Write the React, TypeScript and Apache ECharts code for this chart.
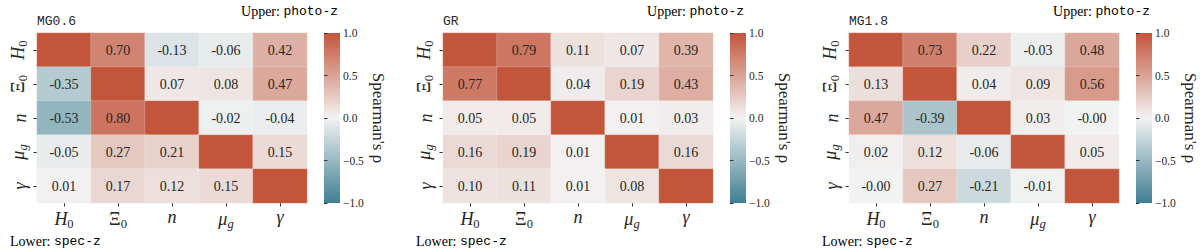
import React, { useEffect, useRef } from 'react';
import * as echarts from 'echarts';

const params = ['H0', 'Ξ0', 'n', 'μg', 'γ'];
const paramRich: Record<string, string> = {
  H0: '{i|H}{s|0}',
  'Ξ0': '{u|Ξ}{s|0}',
  n: '{i|n}',
  'μg': '{i|μ}{si|g}',
  'γ': '{i|γ}',
};
const panelTitles = ['MG0.6', 'GR', 'MG1.8'];

// rows: H0, Ξ0, n, μg, γ ; columns same order. Upper triangle photo-z, lower spec-z
const mg06 = [
  [1, 0.70, -0.13, -0.06, 0.42],
  [-0.35, 1, 0.07, 0.08, 0.47],
  [-0.53, 0.80, 1, -0.02, -0.04],
  [-0.05, 0.27, 0.21, 1, 0.15],
  [0.01, 0.17, 0.12, 0.15, 1],
];
const gr = [
  [1, 0.79, 0.11, 0.07, 0.39],
  [0.77, 1, 0.04, 0.19, 0.43],
  [0.05, 0.05, 1, 0.01, 0.03],
  [0.16, 0.19, 0.01, 1, 0.16],
  [0.10, 0.11, 0.01, 0.08, 1],
];
const mg18 = [
  [1, 0.73, 0.22, -0.03, 0.48],
  [0.13, 1, 0.04, 0.09, 0.56],
  [0.47, -0.39, 1, 0.03, -0.004],
  [0.02, 0.12, -0.06, 1, 0.05],
  [-0.004, 0.27, -0.21, -0.01, 1],
];
const matrices = [mg06, gr, mg18];
const cbMin = -1;
const cbMax = 1;
const cbInterval = 0.5;

const SERIF = 'Liberation Serif, DejaVu Serif, serif';
const MONO = 'Liberation Mono, DejaVu Sans Mono, monospace';
const TXT = '#262626';
const BLUE = '#3f7f93';
const MID = '#f2f2f2';
const RED = '#c3553a';

const richStyles = {
  i: { fontFamily: SERIF, fontStyle: 'italic', fontSize: 18, color: TXT },
  u: { fontFamily: SERIF, fontSize: 18, color: TXT },
  s: { fontFamily: SERIF, fontSize: 12.5, color: TXT, padding: [9, 0, 0, 0] },
  si: { fontFamily: SERIF, fontStyle: 'italic', fontSize: 12.5, color: TXT, padding: [9, 0, 0, 0] },
};

export default function App() {
  const ref = useRef<HTMLDivElement>(null);
  useEffect(() => {
    if (!ref.current) return;
    const chart = echarts.init(ref.current, undefined, { renderer: 'svg' });
    const PANEL_DX = 406;
    const HM_L = 37, HM_T = 33, HM_W = 270, HM_H = 170;
    const CB_L = 324, CB_W = 16;

    const grids: any[] = [];
    const xAxes: any[] = [];
    const yAxes: any[] = [];
    const series: any[] = [];
    const graphics: any[] = [];

    matrices.forEach((m, p) => {
      const dx = PANEL_DX * p;
      grids.push({ left: HM_L + dx, top: HM_T, width: HM_W, height: HM_H });
      xAxes.push({
        type: 'category', gridIndex: p, data: params, position: 'bottom',
        axisLine: { show: false }, splitLine: { show: false },
        axisTick: { show: true, length: 3.5, alignWithLabel: true, interval: 0, lineStyle: { color: '#333', width: 1 } },
        axisLabel: { margin: 5, interval: 0, formatter: (v: string) => paramRich[v], rich: richStyles },
      });
      yAxes.push({
        type: 'category', gridIndex: p, data: params, inverse: true,
        axisLine: { show: false }, splitLine: { show: false },
        axisTick: { show: true, length: 3.5, alignWithLabel: true, interval: 0, lineStyle: { color: '#333', width: 1 } },
        axisLabel: { margin: 8, rotate: 90, interval: 0, formatter: (v: string) => paramRich[v], rich: richStyles },
      });
      const data: any[] = [];
      m.forEach((row, r) => row.forEach((v, c) => data.push([c, r, v])));
      series.push({
        type: 'heatmap', xAxisIndex: p, yAxisIndex: p, data,
        itemStyle: { borderColor: 'rgba(255,255,255,0.5)', borderWidth: 0.4 },
        label: {
          show: true, fontFamily: SERIF, fontSize: 14, color: TXT,
          formatter: (q: any) => (q.value[0] === q.value[1] ? '' : (q.value[2] as number).toFixed(2)),
        },
        emphasis: { disabled: true },
      });
    });

    matrices.forEach((_m, p) => {
      const dx = PANEL_DX * p;
      const gi = 3 + p;
      grids.push({ left: CB_L + dx, top: HM_T, width: CB_W, height: HM_H });
      xAxes.push({ type: 'value', gridIndex: gi, show: false, min: 0, max: 1 });
      yAxes.push({
        type: 'value', gridIndex: gi, position: 'right', min: cbMin, max: cbMax, interval: cbInterval,
        axisLine: { show: false }, splitLine: { show: false },
        axisTick: { show: true, length: 3.5, lineStyle: { color: '#333', width: 1 } },
        axisLabel: {
          margin: 3, fontFamily: SERIF, fontSize: 11.5, color: TXT,
          formatter: (v: number) => (v < 0 ? '\u2212' + Math.abs(v).toFixed(1) : v.toFixed(1)),
        },
        name: "Spearman's \u03c1", nameLocation: 'middle', nameRotate: -90, nameGap: 30,
        nameTextStyle: { fontFamily: SERIF, fontSize: 17, color: TXT },
      });
      series.push({ type: 'scatter', xAxisIndex: gi, yAxisIndex: gi, data: [], silent: true });
      graphics.push({
        type: 'rect', x: CB_L + dx, y: HM_T, shape: { x: 0, y: 0, width: CB_W, height: HM_H }, silent: true,
        style: {
          fill: new echarts.graphic.LinearGradient(0, 0, 0, 1, [
            { offset: 0, color: RED }, { offset: 0.5, color: MID }, { offset: 1, color: BLUE },
          ]),
        },
      });
      graphics.push({
        type: 'text', x: HM_L + dx, y: 21,
        style: { text: panelTitles[p], fontFamily: MONO, fontSize: 13, fill: TXT, textAlign: 'left', textVerticalAlign: 'middle' },
      });
      graphics.push({
        type: 'text', x: 338 + dx, y: 11,
        style: {
          text: '{a|Upper: }{b|photo-z}', textAlign: 'right', textVerticalAlign: 'middle',
          rich: {
            a: { fontFamily: SERIF, fontSize: 14, color: TXT },
            b: { fontFamily: MONO, fontSize: 13, color: TXT },
          },
        },
      });
      graphics.push({
        type: 'text', x: 10 + dx, y: 241,
        style: {
          text: '{a|Lower: }{b|spec-z}', textAlign: 'left', textVerticalAlign: 'middle',
          rich: {
            a: { fontFamily: SERIF, fontSize: 14, color: TXT },
            b: { fontFamily: MONO, fontSize: 13, color: TXT },
          },
        },
      });
    });

    chart.setOption({
      animation: false,
      backgroundColor: '#ffffff',
      textStyle: { fontFamily: SERIF },
      grid: grids,
      xAxis: xAxes,
      yAxis: yAxes,
      visualMap: {
        type: 'continuous', min: cbMin, max: cbMax, show: false, seriesIndex: [0, 1, 2],
        inRange: { color: [BLUE, MID, RED] },
      },
      series,
      graphic: graphics,
    });
    return () => chart.dispose();
  }, []);
  return <div ref={ref} style={{ position: 'fixed', left: 0, top: 0, width: 1200, height: 249 }} />;
}
